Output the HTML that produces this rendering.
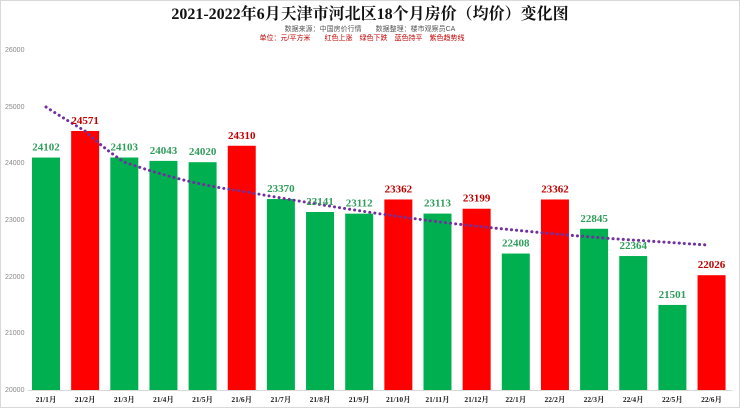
<!DOCTYPE html>
<html><head><meta charset="utf-8"><style>
html,body{margin:0;padding:0;background:#fff;}
svg{display:block;}
.t{font-family:"Liberation Serif","Noto Serif CJK SC",serif;font-weight:bold;}
.s{font-family:"Liberation Sans","Noto Sans CJK SC",sans-serif;}
</style></head><body>
<svg width="740" height="408" viewBox="0 0 740 408" xmlns="http://www.w3.org/2000/svg">
<rect x="0.5" y="0.5" width="739" height="407" fill="#fff" stroke="#d9d9d9"/>
<text class="t" x="370" y="19" text-anchor="middle" font-size="16" fill="#111">2021-2022年6月天津市河北区18个月房价（均价）变化图</text>
<text class="s" x="370" y="31" text-anchor="middle" font-size="7" fill="#555">数据来源：中国房价行情　　数据整理：楼市观察员CA</text>
<text class="s" x="362" y="40" text-anchor="middle" font-size="7" fill="#c00000">单位：元/平方米　　红色上涨　绿色下跌　蓝色持平　紫色趋势线</text>
<g class="s" font-size="7" fill="#888">
<text x="5" y="52">26000</text><text x="5" y="109">25000</text><text x="5" y="165">24000</text>
<text x="5" y="222">23000</text><text x="5" y="279">22000</text><text x="5" y="335">21000</text><text x="5" y="392">20000</text>
</g>
<line x1="28" y1="390.5" x2="732" y2="390.5" stroke="#d9d9d9"/>
<g id="bars"></g>
<path d="M46,107 C60,116 75,125 85,131 C100,145 115,156 124,162 C170,178 205,186 241,191 C320,205 400,218 475,226 C540,233 600,238 632,240 C665,242 690,244 708,245" fill="none" stroke="#7030a0" stroke-width="3" stroke-dasharray="0.1 5" stroke-linecap="round"/>
<g id="labels"></g>
</svg>
<script>
var v=[24102,24571,24103,24043,24020,24310,23370,23141,23112,23362,23113,23199,22408,23362,22845,22364,21501,22026];
var c=['g','r','g','g','g','r','g','g','g','r','g','r','g','r','g','g','g','r'];
var n=['21/1月','21/2月','21/3月','21/4月','21/5月','21/6月','21/7月','21/8月','21/9月','21/10月','21/11月','21/12月','22/1月','22/2月','22/3月','22/4月','22/5月','22/6月'];
var ns='http://www.w3.org/2000/svg',b=document.getElementById('bars'),l=document.getElementById('labels');
for(var i=0;i<18;i++){
var x=32+39.15*i,y=390-(v[i]-20000)*0.056667;
var r=document.createElementNS(ns,'rect');
r.setAttribute('x',x);r.setAttribute('y',y);r.setAttribute('width',28);r.setAttribute('height',390-y);
r.setAttribute('fill',c[i]=='g'?'#00b050':'#ff0000');b.appendChild(r);
var t=document.createElementNS(ns,'text');t.setAttribute('class','t');
t.setAttribute('x',x+14);t.setAttribute('y',y-7);t.setAttribute('text-anchor','middle');t.setAttribute('font-size','11');
t.setAttribute('fill',c[i]=='g'?'#2e9e5a':'#c00000');t.textContent=v[i];l.appendChild(t);
var u=document.createElementNS(ns,'text');u.setAttribute('class','t');
u.setAttribute('x',x+14);u.setAttribute('y',402);u.setAttribute('text-anchor','middle');u.setAttribute('font-size','7.5');
u.setAttribute('fill','#222');u.textContent=n[i];l.appendChild(u);
}
</script>
</body></html>
